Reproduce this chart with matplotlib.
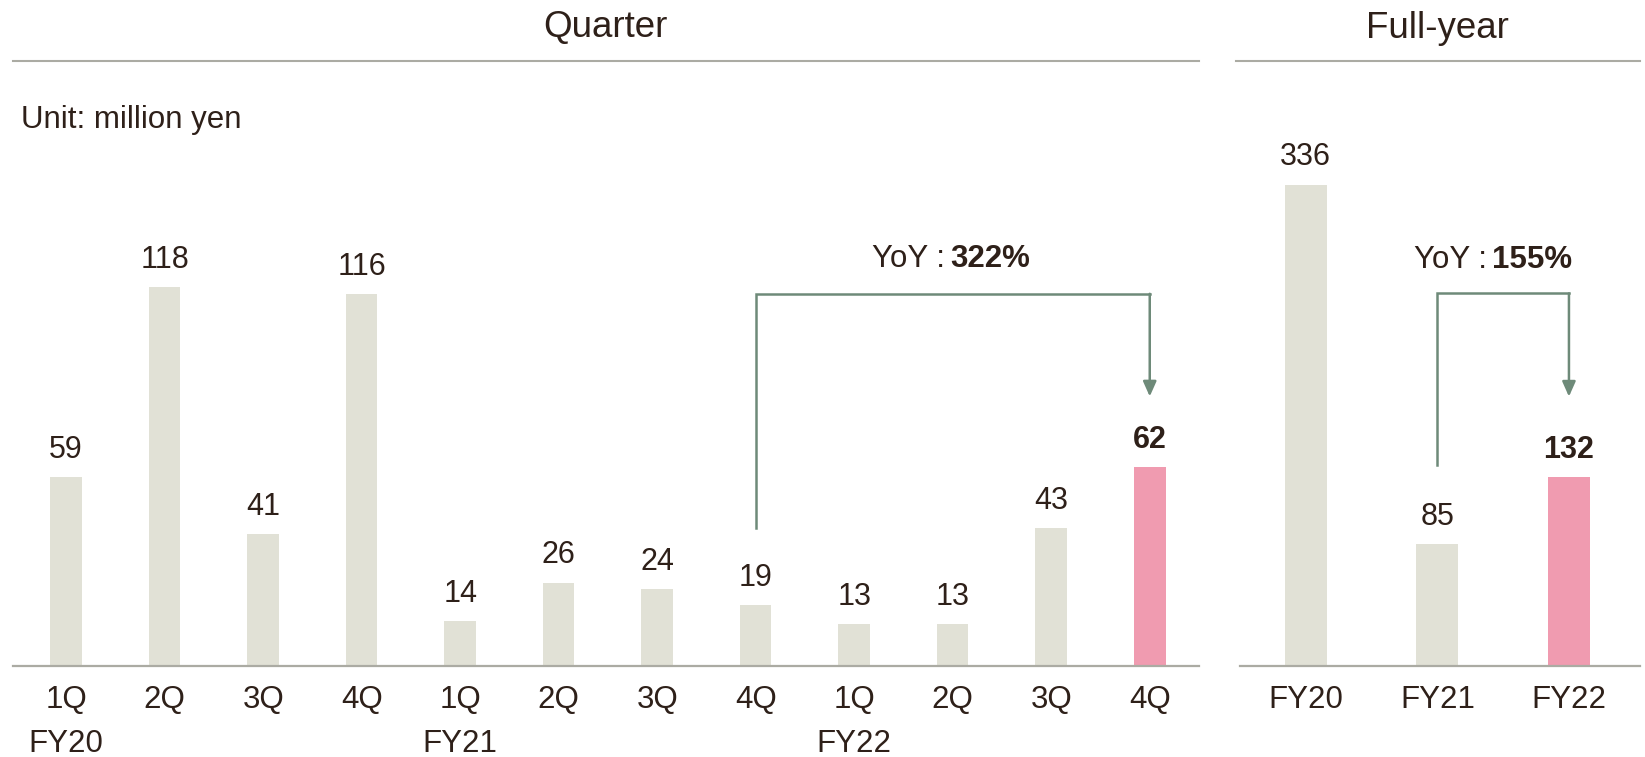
import numpy as np
import matplotlib.pyplot as plt
from matplotlib.lines import Line2D

plt.rcParams['font.family'] = ['Liberation Sans', 'DejaVu Sans']

# data
quarters = ['1Q', '2Q', '3Q', '4Q', '1Q', '2Q', '3Q', '4Q', '1Q', '2Q', '3Q', '4Q']
fy_under = ['FY20', '', '', '', 'FY21', '', '', '', 'FY22', '', '', '']
q_values = [59, 118, 41, 116, 14, 26, 24, 19, 13, 13, 43, 62]
years = ['FY20', 'FY21', 'FY22']
y_values = [336, 85, 132]
yoy_q = '322%'
yoy_y = '155%'

grey = '#E1E1D6'
pink = '#F09BB0'
txt = '#2E2019'
arrow_c = '#6E8A79'
line_c = '#ABABA3'

W, H = 1645, 757
fig = plt.figure(figsize=(W / 100, H / 100), dpi=100)

base = 91 / H
ah = 566 / H
ax1 = fig.add_axes([13 / W, base, (1199 - 13) / W, ah])
ax2 = fig.add_axes([1240 / W, base, (1640 - 1240) / W, ah])

def style(ax):
    for s in ['top', 'right', 'left']:
        ax.spines[s].set_visible(False)
    ax.spines['bottom'].set_color(line_c)
    ax.spines['bottom'].set_linewidth(1.6)
    ax.set_yticks([])
    ax.tick_params(axis='x', length=0, pad=14, labelsize=22.5, labelcolor=txt)

# quarter panel
xq = np.arange(len(quarters))
cq = [grey] * (len(quarters) - 1) + [pink]
ax1.bar(xq, q_values, width=0.32, color=cq)
ax1.set_xlim(-0.54, 11.5)
ax1.set_ylim(0, 176.4)
style(ax1)
ax1.set_xticks(xq)
ax1.set_xticklabels([q + ('\n' + f if f else '') for q, f in zip(quarters, fy_under)],
                    linespacing=1.6)
for i, v in enumerate(q_values):
    ax1.annotate(str(v), (xq[i], v), xytext=(0, 19.5), textcoords='offset points',
                 ha='center', va='center', fontsize=22, color=txt,
                 fontweight='bold' if i == len(q_values) - 1 else 'normal')

# full-year panel
xy = np.arange(len(years))
cy = [grey, grey, pink]
ax2.bar(xy, y_values, width=0.32, color=cy)
ax2.set_xlim(-0.5, 2.54)
ax2.set_ylim(0, 395)
style(ax2)
ax2.set_xticks(xy)
ax2.set_xticklabels(years)
for i, v in enumerate(y_values):
    ax2.annotate(str(v), (xy[i], v), xytext=(0, 19.5), textcoords='offset points',
                 ha='center', va='center', fontsize=22, color=txt,
                 fontweight='bold' if i == len(y_values) - 1 else 'normal')

def bracket(ax, x1, x2, y_start, y_top, y_tip):
    ax.plot([x1, x1, x2], [y_start, y_top, y_top], color=arrow_c, lw=1.8,
            solid_joinstyle='miter', clip_on=False)
    ax.annotate('', xy=(x2, y_tip), xytext=(x2, y_top),
                arrowprops=dict(arrowstyle='-|>,head_length=0.9,head_width=0.4',
                                color=arrow_c, lw=1.8, shrinkA=0, shrinkB=0))

def yoy(ax, x, y, val):
    ax.text(x, y, 'YoY :', ha='right', va='center', fontsize=22.5, color=txt)
    ax.annotate(val, (x, y), xytext=(4, 0), textcoords='offset points',
                ha='left', va='center', fontsize=22.5, color=txt, fontweight='bold')

bracket(ax1, 7, 11, 43, 116, 84)
yoy(ax1, 8.92, 127, yoy_q)
bracket(ax2, 1, 2, 140, 260, 188)
yoy(ax2, 1.376, 283, yoy_y)

# headers
hy = 1 - 61 / H
fig.add_artist(Line2D([13 / W, 1199 / W], [hy, hy], color=line_c, lw=1.5))
fig.add_artist(Line2D([1236 / W, 1640 / W], [hy, hy], color=line_c, lw=1.5))
fig.text(605 / W, 1 - 28 / H, 'Quarter', ha='center', va='center', fontsize=26.5, color=txt)
fig.text(1437 / W, 1 - 28 / H, 'Full-year', ha='center', va='center', fontsize=26.5, color=txt)
fig.text(21 / W, 1 - 120 / H, 'Unit: million yen', ha='left', va='center', fontsize=22.5, color=txt)

fig.savefig('out.png', dpi=100)
